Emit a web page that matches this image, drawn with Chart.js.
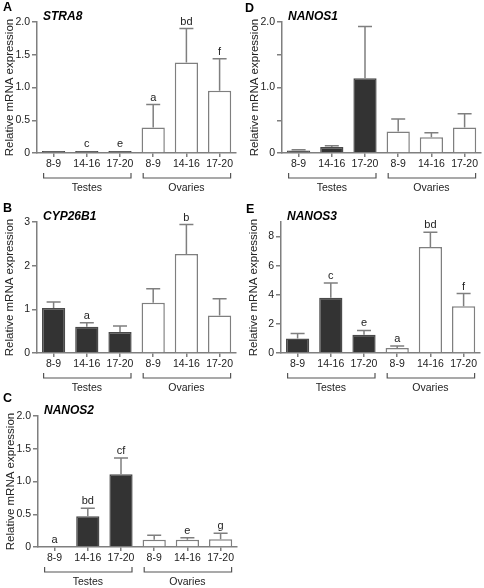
<!DOCTYPE html>
<html>
<head>
<meta charset="utf-8">
<script src="https://cdn.jsdelivr.net/npm/chart.js@4.4.1/dist/chart.umd.min.js"></script>
<style>
  html, body { margin: 0; padding: 0; background: #ffffff; }
  #wrap { position: relative; width: 484px; height: 588px; overflow: hidden; }
  canvas { position: absolute; left: 0; top: 0; }
</style>
</head>
<body>
<div id="wrap">
  <canvas id="cA" width="484" height="588"></canvas>
  <canvas id="cB" width="484" height="588"></canvas>
  <canvas id="cC" width="484" height="588"></canvas>
  <canvas id="cD" width="484" height="588"></canvas>
  <canvas id="cE" width="484" height="588"></canvas>
</div>
<script>
// ---------- data ----------
const categories = ['8-9', '14-16', '17-20', '8-9', '14-16', '17-20'];
const groups = ['Testes', 'Ovaries'];
const groupOf = [0, 0, 0, 1, 1, 1];

const stra8Mean = [0.03, 0.03, 0.03, 0.39, 1.38, 0.95];
const stra8Sem  = [0, 0, 0, 0.35, 0.52, 0.49];
const stra8Sig  = ['', 'c', 'e', 'a', 'bd', 'f'];
const stra8YTicks = ['0', '0.5', '1.0', '1.5', '2.0'];

const cyp26b1Mean = [1.03, 0.60, 0.48, 1.15, 2.27, 0.86];
const cyp26b1Sem  = [0.14, 0.09, 0.14, 0.32, 0.67, 0.38];
const cyp26b1Sig  = ['', 'a', '', '', 'b', ''];
const cyp26b1YTicks = ['0', '1', '2', '3'];

const nanos2Mean = [0, 0.47, 1.11, 0.11, 0.11, 0.12];
const nanos2Sem  = [0, 0.12, 0.25, 0.07, 0.03, 0.09];
const nanos2Sig  = ['a', 'bd', 'cf', '', 'e', 'g'];
const nanos2YTicks = ['0', '0.5', '1.0', '1.5', '2.0'];

const nanos1Mean = [0.04, 0.09, 1.14, 0.33, 0.24, 0.39];
const nanos1Sem  = [0.01, 0.02, 0.79, 0.19, 0.07, 0.21];
const nanos1Sig  = ['', '', '', '', '', ''];
const nanos1YTicks = ['0', '', '1.0', '', '2.0'];

const nanos3Mean = [1.00, 3.80, 1.25, 0.34, 7.29, 3.21];
const nanos3Sem  = [0.34, 1.01, 0.30, 0.14, 1.00, 0.87];
const nanos3Sig  = ['', 'c', 'e', 'a', 'bd', 'f'];
const nanos3YTicks = ['0', '2', '4', '6', '8'];

// ---------- styles ----------
const FONT = "'Liberation Sans', Arial, Helvetica, sans-serif";
const AXIS = '#7f7f7f';
const TEXT = '#222222';
const DARK = '#333333';

const panels = [
  { canvas: 'cA', letter: 'A', gene: 'STRA8',   mean: stra8Mean,   sem: stra8Sem,   sig: stra8Sig,   ticks: stra8YTicks,   yMax: 2, yStep: 0.5, area: { l: 37, t: 22,  b: 153 }, lpos: { x: 3,   y: 8 } },
  { canvas: 'cB', letter: 'B', gene: 'CYP26B1', mean: cyp26b1Mean, sem: cyp26b1Sem, sig: cyp26b1Sig, ticks: cyp26b1YTicks, yMax: 3, yStep: 1,   area: { l: 37, t: 222, b: 353 }, lpos: { x: 3,   y: 209 } },
  { canvas: 'cC', letter: 'C', gene: 'NANOS2',  mean: nanos2Mean,  sem: nanos2Sem,  sig: nanos2Sig,  ticks: nanos2YTicks,  yMax: 2, yStep: 0.5, area: { l: 38, t: 416, b: 547 }, lpos: { x: 3,   y: 399 } },
  { canvas: 'cD', letter: 'D', gene: 'NANOS1',  mean: nanos1Mean,  sem: nanos1Sem,  sig: nanos1Sig,  ticks: nanos1YTicks,  yMax: 2, yStep: 0.5, area: { l: 282, t: 22, b: 153 }, lpos: { x: 245, y: 9 } },
  { canvas: 'cE', letter: 'E', gene: 'NANOS3',  mean: nanos3Mean,  sem: nanos3Sem,  sig: nanos3Sig,  ticks: nanos3YTicks,  yMax: 9, yStep: 2,   area: { l: 281, t: 222, b: 353 }, lpos: { x: 246, y: 210 } }
];

const Y_W = 34;   // fixed y-scale box width
const X_H = 20;   // fixed x-scale box height
const CAT_W = 33.2;

const decor = {
  id: 'decor',
  afterDatasetsDraw(chart, args, o) {
    const ctx = chart.ctx, xs = chart.scales.x, ys = chart.scales.y;
    const ca = chart.chartArea;
    ctx.save();
    // error bars (upper only)
    o.mean.forEach((v, i) => {
      const px = xs.getPixelForValue(i);
      const top = v + o.sem[i];
      const yTop = ys.getPixelForValue(top);
      if (o.sem[i] > 0) {
        ctx.strokeStyle = AXIS;
        ctx.lineWidth = 1.5;
        ctx.beginPath();
        ctx.moveTo(px, ys.getPixelForValue(v));
        ctx.lineTo(px, yTop);
        ctx.moveTo(px - 7, yTop);
        ctx.lineTo(px + 7, yTop);
        ctx.stroke();
      }
      if (o.sig[i]) {
        ctx.fillStyle = TEXT;
        ctx.font = '11px ' + FONT;
        ctx.textAlign = 'center';
        ctx.textBaseline = 'alphabetic';
        ctx.fillText(o.sig[i], px, yTop - 4);
      }
    });
    // group brackets
    const by = ca.bottom + 25;
    groups.forEach((g, gi) => {
      const idx = groupOf.map((k, i) => k === gi ? i : -1).filter(i => i >= 0);
      const x0 = xs.getPixelForValue(idx[0]) - 10;
      const x1 = xs.getPixelForValue(idx[idx.length - 1]) + 11;
      ctx.strokeStyle = '#555555';
      ctx.lineWidth = 1.2;
      ctx.beginPath();
      ctx.moveTo(x0, by - 5);
      ctx.lineTo(x0, by);
      ctx.lineTo(x1, by);
      ctx.lineTo(x1, by - 5);
      ctx.stroke();
      const mid = xs.getPixelForValue(idx[Math.floor(idx.length / 2)]);
      ctx.fillStyle = TEXT;
      ctx.font = '10.5px ' + FONT;
      ctx.textAlign = 'center';
      ctx.textBaseline = 'middle';
      ctx.fillText(g, mid, ca.bottom + 35);
    });
    // gene name and panel letter
    ctx.fillStyle = '#000000';
    ctx.font = 'italic bold 12px ' + FONT;
    ctx.textAlign = 'left';
    ctx.textBaseline = 'middle';
    ctx.fillText(o.gene, ca.left + 6, ca.top - 5);
    ctx.font = 'bold 12.5px ' + FONT;
    ctx.fillText(o.letter, o.lpos.x, o.lpos.y);
    ctx.restore();
  }
};

panels.forEach(p => {
  const right = p.area.l + CAT_W * categories.length;
  new Chart(document.getElementById(p.canvas), {
    type: 'bar',
    data: {
      labels: categories,
      datasets: [{
        data: p.mean,
        backgroundColor: groupOf.map(g => g === 0 ? DARK : '#ffffff'),
        borderColor: groupOf.map(g => g === 0 ? '#4a4a4a' : AXIS),
        borderWidth: 1.5,
        categoryPercentage: 1,
        barPercentage: 0.7
      }]
    },
    options: {
      responsive: false,
      animation: false,
      devicePixelRatio: 1,
      layout: {
        padding: {
          left: p.area.l - Y_W,
          top: p.area.t,
          right: 484 - right,
          bottom: 588 - p.area.b - X_H
        }
      },
      plugins: {
        legend: { display: false },
        tooltip: { enabled: false },
        decor: { mean: p.mean, sem: p.sem, sig: p.sig, gene: p.gene, letter: p.letter, lpos: p.lpos }
      },
      scales: {
        x: {
          type: 'category',
          offset: true,
          afterFit: s => { s.height = X_H; },
          grid: { display: true, offset: false, drawOnChartArea: false, drawTicks: true, tickLength: 4, color: AXIS, lineWidth: 1.5 },
          border: { display: true, color: AXIS, width: 1.5 },
          ticks: { color: TEXT, font: { family: FONT, size: 10.5 }, padding: 1, maxRotation: 0, autoSkip: false }
        },
        y: {
          min: 0,
          max: p.yMax,
          afterFit: s => { s.width = Y_W; },
          grid: { display: true, drawOnChartArea: false, drawTicks: true, tickLength: 5, color: AXIS, lineWidth: 1.5 },
          border: { display: true, color: AXIS, width: 1.5 },
          title: { display: true, text: 'Relative mRNA expression', color: TEXT, font: { family: FONT, size: 11.5 }, padding: { top: 0, bottom: 0 } },
          ticks: {
            stepSize: p.yStep,
            includeBounds: false,
            color: TEXT,
            font: { family: FONT, size: 10.5 },
            padding: 2,
            callback: (v, i) => p.ticks[i]
          }
        }
      }
    },
    plugins: [decor]
  });
});
</script>
</body>
</html>
